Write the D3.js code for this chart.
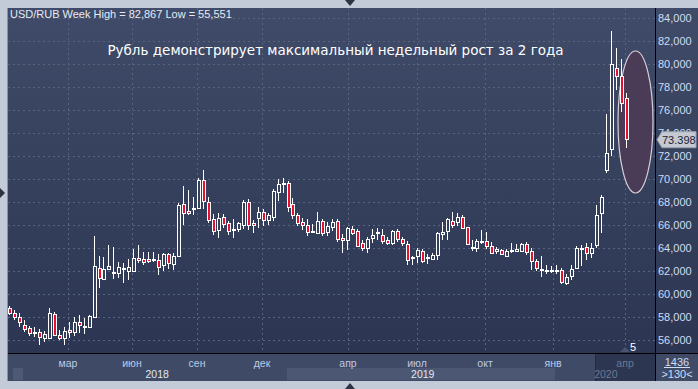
<!DOCTYPE html>
<html>
<head>
<meta charset="utf-8">
<script src="https://cdn.jsdelivr.net/npm/d3@7"></script>
<style>
  body { margin: 0; background: #c3cbd8; }
  svg { display: block; }
</style>
</head>
<body>
<div id="chart"></div>
<script>
// weekly candles USD/RUB, [open, high, low, close]
var candles = [
  [58.80, 59.00, 58.20, 58.37], [58.37, 58.63, 57.76, 58.02], [58.02, 58.37, 57.15, 57.59],
  [57.33, 57.76, 56.72, 56.98], [57.07, 57.24, 56.37, 56.63], [56.63, 57.15, 56.29, 56.75],
  [56.72, 56.98, 55.55, 56.29], [56.20, 56.81, 55.85, 56.55], [56.20, 58.80, 56.20, 58.37],
  [58.28, 58.45, 56.37, 56.46], [56.46, 56.89, 56.03, 56.20], [56.20, 57.18, 55.60, 56.81],
  [56.89, 57.59, 56.20, 56.72], [56.72, 58.02, 56.37, 57.59], [57.59, 58.19, 56.63, 57.33],
  [57.13, 57.93, 56.55, 57.24], [57.18, 58.19, 57.07, 58.11], [58.05, 65.05, 58.00, 62.44],
  [62.27, 63.31, 60.54, 61.40], [61.32, 63.22, 61.23, 62.18], [62.18, 64.27, 62.10, 62.44],
  [61.84, 64.10, 61.32, 61.95], [61.86, 62.79, 61.40, 62.36], [62.18, 62.70, 60.97, 62.30],
  [62.04, 63.05, 61.23, 62.36], [62.04, 63.92, 62.10, 63.14], [63.11, 64.27, 62.70, 62.90],
  [63.02, 63.66, 62.53, 62.77], [63.02, 63.66, 62.70, 62.88], [62.90, 63.66, 62.79, 63.02],
  [62.96, 63.49, 61.66, 62.38], [62.47, 63.57, 62.01, 63.46], [63.46, 63.57, 62.18, 62.68],
  [62.68, 63.57, 62.10, 63.34], [63.34, 67.93, 63.40, 67.73], [67.82, 69.38, 66.00, 67.07],
  [67.21, 69.03, 66.87, 67.01], [67.36, 68.42, 66.87, 67.45], [67.45, 70.08, 67.39, 69.90],
  [69.90, 70.77, 67.39, 68.11], [68.02, 68.43, 66.17, 66.43], [66.52, 66.95, 65.13, 65.51],
  [65.51, 67.04, 64.87, 66.58], [66.67, 66.95, 65.74, 66.06], [66.15, 66.35, 65.13, 65.42],
  [65.57, 66.52, 64.87, 65.63], [65.65, 66.26, 65.39, 66.15], [66.06, 68.17, 65.65, 68.02],
  [67.97, 68.25, 65.57, 66.00], [66.15, 66.43, 65.31, 65.94], [66.62, 67.56, 65.74, 67.10],
  [67.10, 67.39, 65.91, 66.43], [66.43, 67.04, 66.00, 66.87], [66.67, 69.13, 66.35, 68.95],
  [68.89, 69.99, 68.08, 69.56], [69.62, 70.08, 68.78, 69.67], [69.62, 69.82, 67.15, 67.50],
  [67.80, 68.34, 66.52, 66.87], [66.87, 67.04, 65.91, 66.15], [66.23, 66.61, 65.57, 66.00],
  [66.00, 66.52, 65.05, 65.42], [65.42, 66.09, 65.31, 65.51], [65.33, 67.13, 65.31, 66.35],
  [66.37, 66.52, 65.05, 65.33], [65.42, 66.26, 65.05, 65.91], [65.85, 66.52, 65.48, 66.29],
  [66.35, 66.52, 64.52, 64.76], [64.85, 65.22, 63.55, 64.64], [64.70, 65.83, 63.83, 65.71],
  [65.63, 65.91, 65.13, 65.28], [65.48, 65.65, 64.09, 64.20], [64.46, 64.70, 63.75, 64.03],
  [63.98, 64.96, 63.57, 64.76], [64.85, 65.65, 64.44, 65.13], [65.28, 65.74, 64.70, 65.37],
  [65.13, 65.65, 64.35, 64.64], [64.70, 64.96, 64.27, 64.41], [64.41, 65.57, 64.27, 65.48],
  [65.48, 65.65, 64.52, 64.76], [64.76, 64.96, 64.18, 64.41], [64.35, 64.61, 62.53, 62.96],
  [63.20, 63.31, 62.53, 63.25], [63.31, 64.00, 62.70, 63.83], [63.74, 63.92, 62.70, 62.90],
  [63.14, 63.49, 62.62, 63.20], [63.05, 63.57, 62.96, 63.40], [63.40, 65.39, 62.96, 65.28],
  [65.28, 66.26, 64.70, 65.42], [65.42, 66.61, 64.70, 66.49], [66.37, 67.13, 65.74, 66.06],
  [66.29, 67.04, 65.91, 66.72], [66.67, 66.87, 65.65, 65.71], [65.80, 65.83, 64.27, 64.33],
  [64.00, 64.70, 63.75, 64.05], [64.07, 64.79, 63.66, 64.64], [64.57, 65.57, 64.35, 64.62],
  [64.64, 65.39, 63.92, 64.18], [64.20, 64.53, 63.49, 63.63], [63.74, 64.09, 63.49, 63.92],
  [63.83, 63.92, 63.40, 63.49], [63.34, 63.92, 63.22, 63.77], [63.75, 64.44, 63.57, 63.79],
  [63.74, 64.35, 63.66, 63.92], [63.74, 64.44, 63.66, 64.33], [64.35, 64.53, 63.40, 63.63],
  [63.74, 64.00, 62.10, 62.88], [62.88, 63.05, 62.01, 62.24], [62.14, 63.31, 61.49, 62.18],
  [62.08, 62.53, 61.75, 62.12], [62.10, 62.44, 61.84, 62.12], [62.10, 62.53, 61.75, 62.12],
  [62.10, 62.27, 60.88, 61.08], [61.03, 61.75, 60.80, 61.52], [61.52, 62.53, 61.23, 62.16],
  [62.24, 64.18, 62.27, 63.98], [63.92, 64.27, 62.44, 63.98], [64.07, 64.44, 62.96, 63.55],
  [63.55, 64.44, 63.14, 63.98], [64.27, 67.73, 64.00, 66.87], [67.07, 68.60, 65.31, 68.45],
  [70.71, 75.60, 70.54, 72.22], [72.57, 82.87, 71.98, 79.94], [79.59, 81.33, 77.71, 78.86],
  [78.92, 80.37, 75.83, 76.56], [76.99, 77.42, 72.65, 73.40]
];

var priceTicks = [56, 58, 60, 62, 64, 66, 68, 70, 72, 74, 76, 78, 80, 82, 84];
var monthLabels = ["мар", "июн", "сен", "дек", "апр", "июл", "окт", "янв", "апр"];
var monthPos = [11.86, 24.73, 37.80, 50.87, 68.17, 82.04, 95.72, 109.39, 123.87];
var yearLabels = ["2018", "2019", "2020"];
var yearPos = [29.8, 83.2, 120.0];
var lastPrice = 73.398;

var W = 698, H = 389;
var plot = { left: 8, right: 655, top: 8, bottom: 353 };

var svg = d3.select("#chart").append("svg")
    .attr("width", W)
    .attr("height", H)
    .style("font-family", "'Liberation Sans', Arial, sans-serif");

var x = d3.scaleLinear().domain([0, candles.length - 1]).range([9, 625.7]);
var y = d3.scaleLinear().domain([56, 84]).range([340.3, 17.5]);

// background gradient
var defs = svg.append("defs");
var grad = defs.append("linearGradient").attr("id", "bg").attr("x1", 0).attr("x2", 0).attr("y1", 0).attr("y2", 1);
grad.append("stop").attr("offset", "0%").attr("stop-color", "#3f4b68");
grad.append("stop").attr("offset", "100%").attr("stop-color", "#2c3652");
defs.append("clipPath").attr("id", "clip").append("rect")
    .attr("x", plot.left).attr("y", plot.top)
    .attr("width", plot.right - plot.left).attr("height", plot.bottom - plot.top);

svg.append("rect").attr("x", 0).attr("y", 0).attr("width", W).attr("height", H).attr("fill", "#c3cbd8");
svg.append("rect").attr("x", plot.left).attr("y", plot.top)
    .attr("width", W - plot.left).attr("height", plot.bottom - plot.top)
    .attr("fill", "url(#bg)");
svg.append("line").attr("x1", 7.5).attr("x2", 7.5).attr("y1", 8).attr("y2", 381).attr("stroke", "#8a93a3");

// bottom axis panel
svg.append("rect").attr("x", plot.left).attr("y", plot.bottom).attr("width", W - plot.left).attr("height", 28).attr("fill", "#3e4a66");
svg.append("rect").attr("x", 13).attr("y", 368).attr("width", 10).attr("height", 12).attr("fill", "#4e5a74");
svg.append("rect").attr("x", 287).attr("y", 368).attr("width", 268).attr("height", 12).attr("fill", "#4b5773");
svg.append("rect").attr("x", 595).attr("y", plot.bottom).attr("width", 60).attr("height", 28).attr("fill", "#2c3651");
svg.append("line").attr("x1", 595.5).attr("x2", 595.5).attr("y1", plot.bottom).attr("y2", 381).attr("stroke", "#222a3c");

var grid = svg.append("g").attr("clip-path", "url(#clip)");

// horizontal grid
grid.selectAll("line.h").data(priceTicks).enter().append("line")
    .attr("x1", plot.left).attr("x2", plot.right)
    .attr("y1", d => Math.round(y(d)) + 0.5).attr("y2", d => Math.round(y(d)) + 0.5)
    .attr("stroke", "#58647f").attr("stroke-dasharray", "2,3");

// vertical grid
grid.selectAll("line.v").data(monthPos).enter().append("line")
    .attr("x1", d => Math.round(x(d)) + 0.5).attr("x2", d => Math.round(x(d)) + 0.5)
    .attr("y1", plot.top).attr("y2", plot.bottom)
    .attr("stroke", "#58647f").attr("stroke-dasharray", "2,3");

// highlight ellipse
svg.append("ellipse")
    .attr("cx", 635.5).attr("cy", 122).attr("rx", 17.5).attr("ry", 71)
    .attr("fill", "#4c3c56").attr("fill-opacity", 0.92)
    .attr("stroke", "#d9d0d9").attr("stroke-width", 1.2);

// candles
var cg = svg.append("g").attr("clip-path", "url(#clip)").attr("shape-rendering", "crispEdges");
var candle = cg.selectAll("g.c").data(candles).enter().append("g");

candle.append("line")
    .attr("x1", (d, i) => Math.round(x(i)) + 0.5)
    .attr("x2", (d, i) => Math.round(x(i)) + 0.5)
    .attr("y1", d => y(d[1]))
    .attr("y2", d => y(d[2]))
    .attr("stroke", "#ffffff");

candle.append("rect")
    .attr("x", (d, i) => Math.round(x(i)) - 1)
    .attr("y", d => Math.round(y(Math.max(d[0], d[3]))) + 0.5)
    .attr("width", 3)
    .attr("height", d => Math.max(1, Math.round(Math.abs(y(d[0]) - y(d[3])))))
    .attr("fill", d => d[3] < d[0] ? "#e8102f" : "#34405c")
    .attr("stroke", "#ffffff");

// axis lines
svg.append("line").attr("x1", plot.right + 0.5).attr("x2", plot.right + 0.5).attr("y1", plot.top).attr("y2", 381).attr("stroke", "#000");
svg.append("line").attr("x1", plot.left).attr("x2", W).attr("y1", plot.bottom + 0.5).attr("y2", plot.bottom + 0.5).attr("stroke", "#000");

// right axis
var yAxis = d3.axisRight(y).tickValues(priceTicks).tickSize(0).tickPadding(3)
    .tickFormat(d => d3.format(",")(d * 1000));
var ya = svg.append("g").attr("transform", `translate(${plot.right},0)`).call(yAxis);
ya.select(".domain").remove();
ya.selectAll("text").attr("fill", "#cfdcf5").style("font-size", "11px");

// current price marker
svg.append("path")
    .attr("d", `M657,${y(lastPrice)} L662,${y(lastPrice) - 8} L696,${y(lastPrice) - 8} L696,${y(lastPrice) + 8} L662,${y(lastPrice) + 8} Z`)
    .attr("fill", "#c5cad2").attr("stroke", "#9aa1ad");
svg.append("text").attr("x", 662).attr("y", y(lastPrice) + 4)
    .attr("fill", "#1d2333").style("font-size", "11px")
    .text(d3.format(",.3f")(lastPrice));

// bottom axis month labels
var xa = svg.append("g").style("font-size", "10.5px").attr("text-anchor", "middle");
xa.selectAll("text.m").data(monthLabels).enter().append("text")
    .attr("x", (d, i) => x(monthPos[i]))
    .attr("y", 367)
    .attr("fill", (d, i) => i === monthLabels.length - 1 ? "#6d7891" : "#bccbe6")
    .text(d => d);
xa.selectAll("text.y").data(yearLabels).enter().append("text")
    .attr("x", (d, i) => x(yearPos[i]))
    .attr("y", 378)
    .attr("fill", (d, i) => i === yearLabels.length - 1 ? "#6d7891" : "#e2e8f2")
    .text(d => d);

// bottom right box
svg.append("text").attr("x", 677).attr("y", 366).attr("text-anchor", "middle")
    .attr("fill", "#cfdcf5").style("font-size", "11px").text("1436");
svg.append("line").attr("x1", 664).attr("x2", 690).attr("y1", 367.5).attr("y2", 367.5).attr("stroke", "#cfdcf5");
svg.append("text").attr("x", 677).attr("y", 378).attr("text-anchor", "middle")
    .attr("fill", "#cfdcf5").style("font-size", "11px").text(">130<");

// counter
svg.append("path").attr("d", "M620,352 L625,347 L630,352 Z").attr("fill", "#4a5470");
svg.append("text").attr("x", 633).attr("y", 351).attr("text-anchor", "middle")
    .attr("fill", "#ffffff").style("font-size", "11px").text("5");

// header texts
svg.append("text").attr("x", 10).attr("y", 18)
    .attr("fill", "#e6ecf5").style("font-size", "11px")
    .text("USD/RUB Week High = 82,867 Low = 55,551");
svg.append("text").attr("x", 335.5).attr("y", 55).attr("text-anchor", "middle")
    .attr("fill", "#ffffff").style("font-size", "13.5px")
    .style("font-family", "'DejaVu Sans', sans-serif")
    .text("Рубль демонстрирует максимальный недельный рост за 2 года");

// frame markers
svg.append("path").attr("d", "M345,0 L355,0 L350,6 Z").attr("fill", "#2b3344");
svg.append("path").attr("d", "M345,389 L355,389 L350,383 Z").attr("fill", "#2b3344");
svg.append("path").attr("d", "M0,188 L0,198 L5,193 Z").attr("fill", "#2b3344");
</script>
</body>
</html>
